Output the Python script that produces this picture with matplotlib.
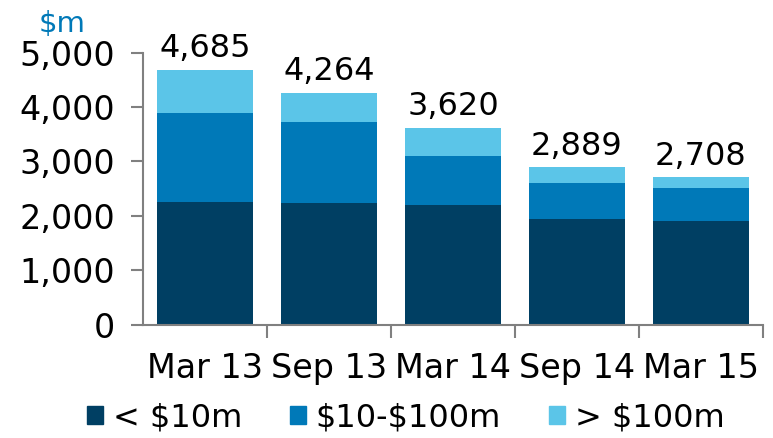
import numpy as np
import matplotlib.pyplot as plt
from matplotlib.patches import Patch

# data ($m)
periods = ['Mar 13', 'Sep 13', 'Mar 14', 'Sep 14', 'Mar 15']
small = [2245, 2230, 2195, 1940, 1900]
medium = [1650, 1490, 895, 660, 605]
large = [790, 544, 530, 289, 203]
totals = [4685, 4264, 3620, 2889, 2708]
series_names = [r'< \$10m', r'\$10-\$100m', r'> \$100m']
colors = ['#003F63', '#0079B8', '#5BC5E8']

plt.rcParams['font.family'] = ['DejaVu Sans']
fs = 24

fig = plt.figure(figsize=(7.73, 4.38), dpi=100)
ax = fig.add_axes([0.185, 0.259, 0.802, 0.621])

x = np.arange(len(periods))
w = 0.77
ax.bar(x, small, w, color=colors[0])
ax.bar(x, medium, w, bottom=small, color=colors[1])
ax.bar(x, large, w, bottom=np.add(small, medium), color=colors[2])

for xi, t in zip(x, totals):
    ax.annotate(f'{t:,}', (xi, t), xytext=(0, 4), textcoords='offset points',
                ha='center', va='bottom', fontsize=23, color='black')

ax.set_xlim(-0.5, 4.5)
ax.set_ylim(0, 5000)
ax.set_yticks(range(0, 5001, 1000))
ax.set_yticklabels([f'{v:,}' for v in range(0, 5001, 1000)])
ax.set_xticks(x)
ax.set_xticklabels(periods)
ax.set_xticks(np.arange(0.5, 5, 1), minor=True)
ax.tick_params(axis='x', which='major', length=0, pad=20, labelsize=fs)
ax.tick_params(axis='x', which='minor', length=9, width=1.5, color='#808080', direction='out')
ax.tick_params(axis='y', length=9, width=1.5, color='#808080', labelsize=fs, pad=11)

for s in ['top', 'right']:
    ax.spines[s].set_visible(False)
for s in ['left', 'bottom']:
    ax.spines[s].set_color('#808080')
    ax.spines[s].set_linewidth(1.5)

fig.text(0.08, 0.945, r'\$m', color='#0079B8', fontsize=21, ha='center', va='center')

handles = [Patch(color=c) for c in colors]
fig.legend(handles, series_names, loc='lower center', bbox_to_anchor=(0.525, -0.055),
           ncol=3, frameon=False, fontsize=23, handlelength=0.5, handleheight=0.5,
           handletextpad=0.3, columnspacing=1.5)

fig.savefig('out.png', dpi=100)
